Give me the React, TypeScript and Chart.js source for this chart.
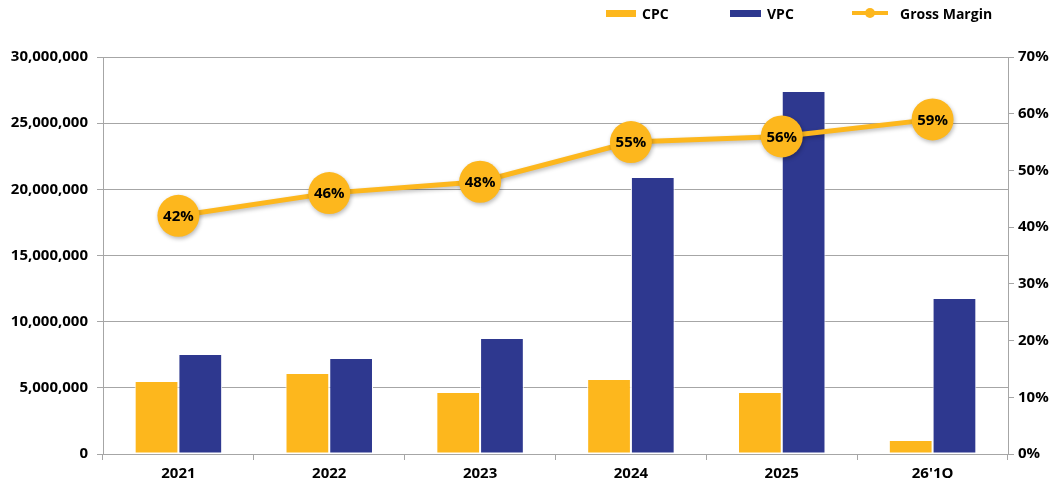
import React, { useEffect, useRef } from "react";
import { Chart, registerables } from "chart.js";

Chart.register(...registerables);

const categories = ["2021", "2022", "2023", "2024", "2025", "26'1Q"];
const cpcValues = [5520000, 6120000, 4680000, 5670000, 4680000, 1060000];
const vpcValues = [7560000, 7250000, 8770000, 20930000, 27430000, 11790000];
const grossMargin = [42, 46, 48, 55, 56, 59];

const CPC_COLOR = "#FDB71D";
const VPC_COLOR = "#2E388F";
const GRID = "#a6a6a6";
const FONT = "'Open Sans', 'Liberation Sans', sans-serif";

const pointLabelPlugin = {
  id: "pointLabels",
  afterDatasetsDraw(chart: any) {
    const meta = chart.getDatasetMeta(2);
    if (!meta || meta.hidden) return;
    const ctx = chart.ctx;
    ctx.save();
    ctx.font = `bold 15px ${FONT}`;
    ctx.fillStyle = "#000";
    ctx.textAlign = "center";
    ctx.textBaseline = "middle";
    meta.data.forEach((el: any, i: number) => {
      ctx.fillText(`${grossMargin[i]}%`, el.x, el.y + 1);
    });
    ctx.restore();
  },
};

const shadowPlugin = {
  id: "pointShadow",
  beforeDatasetDraw(chart: any, args: any) {
    if (args.index === 2) {
      const ctx = chart.ctx;
      ctx.save();
      ctx.shadowColor = "rgba(0,0,0,0.28)";
      ctx.shadowBlur = 4;
      ctx.shadowOffsetX = 1;
      ctx.shadowOffsetY = 2;
    }
  },
  afterDatasetDraw(chart: any, args: any) {
    if (args.index === 2) chart.ctx.restore();
  },
};

export default function App() {
  const ref = useRef<HTMLCanvasElement>(null);

  useEffect(() => {
    if (!ref.current) return;
    const chart = new Chart(ref.current, {
      type: "bar",
      data: {
        labels: categories,
        datasets: [
          {
            type: "bar",
            label: "CPC",
            data: cpcValues,
            backgroundColor: CPC_COLOR,
            borderColor: "#ffffff",
            borderWidth: 1,
            borderSkipped: false,
            yAxisID: "y",
            order: 2,
            categoryPercentage: 0.58,
            barPercentage: 1,
          },
          {
            type: "bar",
            label: "VPC",
            data: vpcValues,
            backgroundColor: VPC_COLOR,
            borderColor: "#ffffff",
            borderWidth: 1,
            borderSkipped: false,
            yAxisID: "y",
            order: 2,
            categoryPercentage: 0.58,
            barPercentage: 1,
          },
          {
            type: "line",
            label: "Gross Margin",
            data: grossMargin,
            borderColor: CPC_COLOR,
            backgroundColor: CPC_COLOR,
            borderWidth: 5,
            pointRadius: 21,
            pointHoverRadius: 21,
            pointBackgroundColor: CPC_COLOR,
            pointBorderWidth: 0,
            yAxisID: "y1",
            order: 0,
            tension: 0,
          },
        ] as any,
      },
      options: {
        animation: false,
        responsive: false,
        maintainAspectRatio: false,
        layout: { padding: { top: 57, bottom: 0, left: 0, right: 0 } },
        plugins: {
          legend: { display: false },
          tooltip: { enabled: false },
        },
        scales: {
          x: {
            offset: true,
            grid: {
              display: true,
              offset: true,
              drawOnChartArea: false,
              color: GRID,
              tickLength: 6,
            },
            border: { color: GRID, width: 1 },
            ticks: {
              color: "#000",
              font: { family: FONT, size: 15, weight: "bold" },
              padding: 5,
            },
            afterFit: (s: any) => {
              s.height = 32;
            },
          },
          y: {
            position: "left",
            min: 0,
            max: 30000000,
            grid: { color: GRID, tickLength: 6 },
            border: { color: GRID, width: 1 },
            ticks: {
              stepSize: 5000000,
              color: "#000",
              font: { family: FONT, size: 15, weight: "bold" },
              padding: 9,
              callback: (v: any) => Number(v).toLocaleString("en-US"),
            },
            afterFit: (s: any) => {
              s.width = 95;
            },
          },
          y1: {
            position: "right",
            min: 0,
            max: 70,
            grid: { drawOnChartArea: false, color: GRID, tickLength: 6 },
            border: { color: GRID, width: 1 },
            ticks: {
              stepSize: 10,
              color: "#000",
              font: { family: FONT, size: 15, weight: "bold" },
              padding: 4,
              callback: (v: any) => `${v}%`,
            },
            afterFit: (s: any) => {
              s.width = 46;
            },
          },
        },
      } as any,
      plugins: [pointLabelPlugin, shadowPlugin],
    });
    return () => chart.destroy();
  }, []);

  const legendText: React.CSSProperties = {
    font: `bold 14px ${FONT}`,
    color: "#000",
    marginLeft: 6,
  };

  return (
    <div
      style={{
        position: "relative",
        width: 1046,
        height: 486,
        marginTop: -8,
        marginBottom: -8,
      }}
    >
      <canvas ref={ref} width={1046} height={486} style={{ display: "block" }} />
      <div
        style={{
          position: "absolute",
          top: 6,
          left: 598,
          display: "flex",
          alignItems: "center",
          height: 14,
        }}
      >
        <div style={{ display: "flex", alignItems: "center", width: 124 }}>
          <span style={{ display: "inline-block", width: 30, height: 7, background: CPC_COLOR }} />
          <span style={legendText}>CPC</span>
        </div>
        <div style={{ display: "flex", alignItems: "center", width: 122 }}>
          <span style={{ display: "inline-block", width: 31, height: 7, background: VPC_COLOR }} />
          <span style={legendText}>VPC</span>
        </div>
        <div style={{ display: "flex", alignItems: "center" }}>
          <span style={{ position: "relative", display: "inline-block", width: 36, height: 10 }}>
            <span
              style={{
                position: "absolute",
                left: 0,
                top: 3,
                width: 36,
                height: 4,
                background: CPC_COLOR,
              }}
            />
            <span
              style={{
                position: "absolute",
                left: 13,
                top: 0,
                width: 10,
                height: 10,
                borderRadius: 5,
                background: CPC_COLOR,
              }}
            />
          </span>
          <span style={{ ...legendText, marginLeft: 12 }}>Gross Margin</span>
        </div>
      </div>
    </div>
  );
}
